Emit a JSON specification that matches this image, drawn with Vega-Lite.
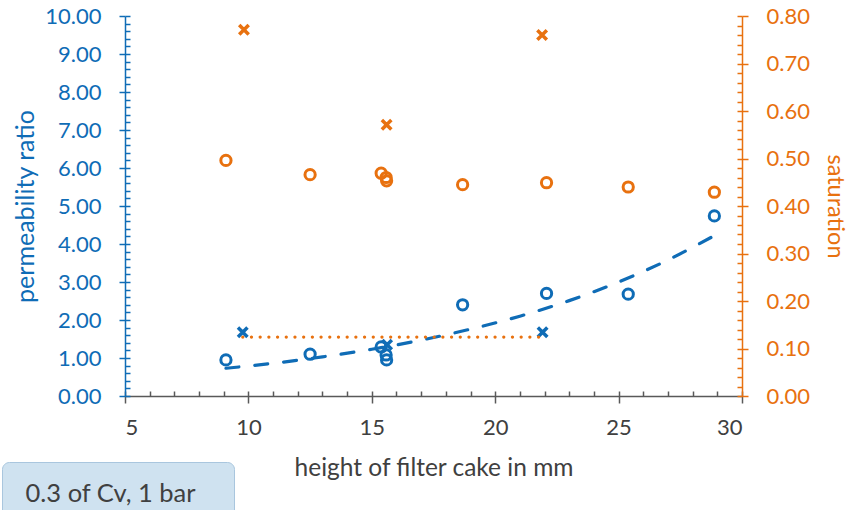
{
  "$schema": "https://vega.github.io/schema/vega-lite/v6.json",
  "width": 617,
  "height": 380,
  "autosize": {"type": "none"},
  "padding": {"left": 125, "top": 16, "right": 113, "bottom": 114},
  "background": "white",
  "config": {"view": {"stroke": null}, "font": "Lato"},
  "datasets": {
    "perm_circle": [
      {"h": 9.09, "v": 0.95}, {"h": 12.5, "v": 1.1}, {"h": 15.38, "v": 1.29},
      {"h": 15.58, "v": 1.08}, {"h": 15.6, "v": 0.95}, {"h": 18.68, "v": 2.4},
      {"h": 22.08, "v": 2.7}, {"h": 25.39, "v": 2.68}, {"h": 28.88, "v": 4.74}
    ],
    "perm_cross": [
      {"h": 9.77, "v": 1.68}, {"h": 15.62, "v": 1.35}, {"h": 21.92, "v": 1.68}
    ],
    "perm_fit": [
      {"h": 9.09, "v": 0.73}, {"h": 11, "v": 0.86}, {"h": 13, "v": 1.03},
      {"h": 15, "v": 1.23}, {"h": 17, "v": 1.47}, {"h": 19, "v": 1.76},
      {"h": 21, "v": 2.1}, {"h": 23, "v": 2.51}, {"h": 25, "v": 3.0},
      {"h": 27, "v": 3.58}, {"h": 28.88, "v": 4.22}
    ],
    "sat_circle": [
      {"h": 9.09, "s": 0.496}, {"h": 12.5, "s": 0.466}, {"h": 15.38, "s": 0.469},
      {"h": 15.58, "s": 0.46}, {"h": 15.6, "s": 0.453}, {"h": 18.68, "s": 0.445},
      {"h": 22.08, "s": 0.449}, {"h": 25.39, "s": 0.44}, {"h": 28.88, "s": 0.429}
    ],
    "sat_cross": [
      {"h": 9.82, "s": 0.771}, {"h": 15.6, "s": 0.571}, {"h": 21.9, "s": 0.76}
    ],
    "sat_ref": [
      {"h1": 9.77, "h2": 21.8, "s": 0.124}
    ]
  },
  "layer": [
    {
      "data": {"name": "perm_circle"},
      "mark": {"type": "point", "shape": "circle", "filled": false, "stroke": "#0F6CB6", "strokeWidth": 3, "size": 105, "opacity": 1},
      "encoding": {
        "x": {"field": "h", "type": "quantitative", "scale": {"domain": [5, 30], "nice": false, "zero": false},
          "axis": {"orient": "bottom", "values": [5, 10, 15, 20, 25, 30], "title": "height of filter cake in mm", "grid": false,
            "domainColor": "#595959", "domainWidth": 1.5, "tickColor": "#595959", "tickWidth": 1.5, "tickSize": 7,
            "labelColor": "#404040", "labelFont": "Lato", "labelFontSize": 22, "labelPadding": 14,
            "titleColor": "#404040", "titleFont": "Lato", "titleFontSize": 24.5, "titleFontWeight": "normal", "titlePadding": 18}},
        "y": {"field": "v", "type": "quantitative", "scale": {"domain": [0, 10], "nice": false, "zero": false},
          "axis": {"orient": "left", "values": [0, 1, 2, 3, 4, 5, 6, 7, 8, 9, 10], "format": ".2f", "title": "permeability ratio", "grid": false,
            "domainColor": "#0F6CB6", "domainWidth": 1.5, "tickColor": "#0F6CB6", "tickWidth": 1.5, "tickSize": 6,
            "labelColor": "#0F6CB6", "labelFont": "Lato", "labelFontSize": 22, "labelPadding": 18,
            "titleColor": "#0F6CB6", "titleFont": "Lato", "titleFontSize": 25, "titleFontWeight": "normal", "titlePadding": 6}}
      }
    },
    {
      "data": {"name": "perm_cross"},
      "mark": {"type": "point", "shape": "M-1,-1L1,1M-1,1L1,-1", "filled": false, "stroke": "#0F6CB6", "strokeWidth": 3.5, "size": 90, "opacity": 1},
      "encoding": {
        "x": {"field": "h", "type": "quantitative", "scale": {"domain": [5, 30], "nice": false, "zero": false},
          "axis": {"orient": "bottom", "values": [5,6,7,8,9,10,11,12,13,14,15,16,17,18,19,20,21,22,23,24,25,26,27,28,29,30],
            "labels": false, "domain": false, "title": null, "grid": false, "tickColor": "#595959", "tickWidth": 1.5, "tickSize": -5}},
        "y": {"field": "v", "type": "quantitative", "scale": {"domain": [0, 10], "nice": false, "zero": false},
          "axis": {"orient": "left", "values": [0,0.2,0.4,0.6,0.8,1,1.2,1.4,1.6,1.8,2,2.2,2.4,2.6,2.8,3,3.2,3.4,3.6,3.8,4,4.2,4.4,4.6,4.8,5,5.2,5.4,5.6,5.8,6,6.2,6.4,6.6,6.8,7,7.2,7.4,7.6,7.8,8,8.2,8.4,8.6,8.8,9,9.2,9.4,9.6,9.8,10],
            "labels": false, "domain": false, "title": null, "grid": false, "tickColor": "#0F6CB6", "tickWidth": 1.5, "tickSize": -5}}
      }
    },
    {
      "data": {"name": "perm_fit"},
      "mark": {"type": "line", "interpolate": "monotone", "stroke": "#0F6CB6", "strokeWidth": 3.2, "strokeDash": [13, 16], "strokeCap": "round"},
      "encoding": {
        "x": {"field": "h", "type": "quantitative", "scale": {"domain": [5, 30], "nice": false, "zero": false}, "axis": null},
        "y": {"field": "v", "type": "quantitative", "scale": {"domain": [0, 10], "nice": false, "zero": false}, "axis": null}
      }
    },
    {
      "data": {"name": "sat_circle"},
      "mark": {"type": "point", "shape": "circle", "filled": false, "stroke": "#E8710F", "strokeWidth": 3, "size": 105, "opacity": 1},
      "encoding": {
        "x": {"field": "h", "type": "quantitative", "scale": {"domain": [5, 30], "nice": false, "zero": false}, "axis": null},
        "y": {"field": "s", "type": "quantitative", "scale": {"domain": [0, 0.8], "nice": false, "zero": false},
          "axis": {"orient": "right", "values": [0, 0.1, 0.2, 0.3, 0.4, 0.5, 0.6, 0.7, 0.8], "format": ".2f", "title": "saturation", "grid": false,
            "domainColor": "#E8710F", "domainWidth": 1.5, "tickColor": "#E8710F", "tickWidth": 1.5, "tickSize": 6,
            "labelColor": "#E8710F", "labelFont": "Lato", "labelFontSize": 22, "labelPadding": 18,
            "titleColor": "#E8710F", "titleFont": "Lato", "titleFontSize": 23.5, "titleFontWeight": "normal", "titlePadding": 13}}
      }
    },
    {
      "data": {"name": "sat_cross"},
      "mark": {"type": "point", "shape": "M-1,-1L1,1M-1,1L1,-1", "filled": false, "stroke": "#E8710F", "strokeWidth": 3.5, "size": 90, "opacity": 1},
      "encoding": {
        "x": {"field": "h", "type": "quantitative", "scale": {"domain": [5, 30], "nice": false, "zero": false}, "axis": null},
        "y": {"field": "s", "type": "quantitative", "scale": {"domain": [0, 0.8], "nice": false, "zero": false},
          "axis": {"orient": "right", "values": [0,0.02,0.04,0.06,0.08,0.1,0.12,0.14,0.16,0.18,0.2,0.22,0.24,0.26,0.28,0.3,0.32,0.34,0.36,0.38,0.4,0.42,0.44,0.46,0.48,0.5,0.52,0.54,0.56,0.58,0.6,0.62,0.64,0.66,0.68,0.7,0.72,0.74,0.76,0.78,0.8],
            "labels": false, "domain": false, "title": null, "grid": false, "tickColor": "#E8710F", "tickWidth": 1.5, "tickSize": -5}}
      }
    },
    {
      "data": {"name": "sat_ref"},
      "mark": {"type": "rule", "strokeWidth": 3.2, "strokeDash": [0.1, 8.6], "strokeCap": "round"},
      "encoding": {
        "x": {"field": "h1", "type": "quantitative", "scale": {"domain": [5, 30], "nice": false, "zero": false}, "axis": null},
        "x2": {"field": "h2"},
        "y": {"field": "s", "type": "quantitative", "scale": {"domain": [0, 0.8], "nice": false, "zero": false}, "axis": null},
        "color": {"datum": "0.3 of Cv, 1 bar", "scale": {"range": ["#E8710F"]},
          "legend": {"orient": "none", "legendX": -123, "legendY": 446, "title": null,
            "fillColor": "#CFE2F0", "strokeColor": "#A9C6DE", "cornerRadius": 7, "padding": 19,
            "symbolSize": 0, "symbolOpacity": 0, "symbolStrokeWidth": 0, "labelOffset": -21,
            "labelFont": "Lato", "labelFontSize": 25.5, "labelColor": "#404040", "labelLimit": 0,
            "labelExpr": "datum.label + '\u2800'"}}
      }
    }
  ],
  "resolve": {"scale": {"y": "independent", "color": "independent"}, "axis": {"x": "independent", "y": "independent"}}
}
